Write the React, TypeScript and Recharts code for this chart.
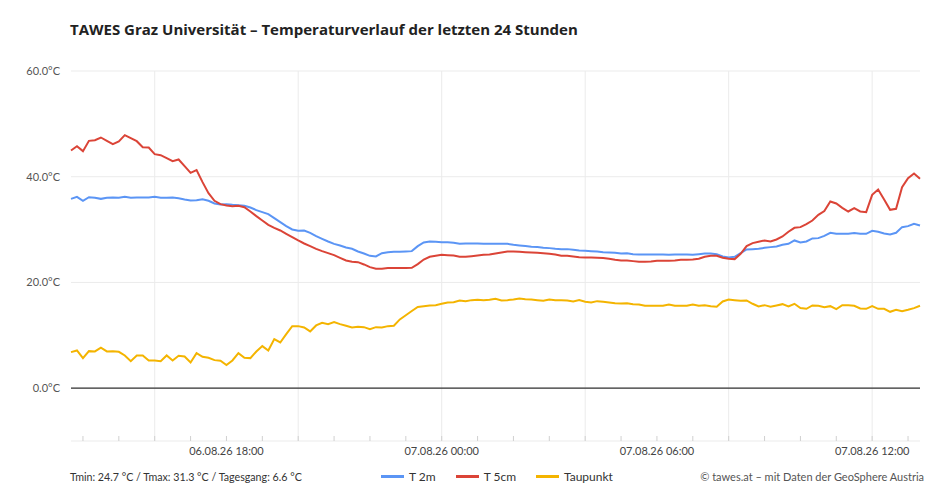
import React from "react";
import {
  LineChart,
  Line,
  XAxis,
  YAxis,
  CartesianGrid,
  ReferenceLine,
} from "recharts";

// time axis: hours relative to 07.08.26 00:00, first value at 06.08.26 13:40, 10-minute steps
const START_HOUR = -10 - 20 / 60;
const STEP_HOURS = 10 / 60;

const t2m = [
  35.81, 36.19, 35.44, 36.13, 36.0, 35.81, 36.0, 36.07, 36.0, 36.19, 36.0, 36.07, 36.07, 36.07,
  36.19, 36.0, 36.0, 36.07, 35.94, 35.69, 35.5, 35.56, 35.75, 35.44, 34.94, 34.75, 34.81, 34.68,
  34.62, 34.49, 34.18, 33.68, 33.3, 32.92, 32.16, 31.4, 30.65, 30.02, 29.77, 29.83, 29.39, 28.76,
  28.25, 27.75, 27.3, 26.99, 26.61, 26.36, 25.86, 25.47, 25.03, 24.91, 25.54, 25.73, 25.79,
  25.79,
  25.86, 25.92, 26.87, 27.56, 27.75, 27.69, 27.62, 27.62, 27.5, 27.3, 27.37, 27.37, 27.37, 27.3,
  27.3, 27.3, 27.3, 27.3, 27.12, 26.99, 26.87, 26.74, 26.68, 26.55, 26.49, 26.36, 26.3,
  26.3, 26.17, 26.05, 25.98, 25.92, 25.86, 25.73, 25.67, 25.6, 25.48, 25.54, 25.35, 25.29, 25.29,
  25.29, 25.29, 25.29, 25.23, 25.29, 25.29, 25.29, 25.23, 25.35, 25.48, 25.48, 25.35, 24.91, 24.72,
  24.85, 25.54, 26.24, 26.3, 26.36, 26.55, 26.68, 26.8, 27.12, 27.3, 27.94, 27.56, 27.75, 28.32,
  28.38, 28.82, 29.39, 29.2, 29.2, 29.2, 29.33, 29.2, 29.2, 29.77, 29.58, 29.26, 29.07, 29.39,
  30.46, 30.65, 31.09, 30.77,
];

const t5cm = [
  44.96, 45.78, 44.84, 46.79, 46.91, 47.42, 46.79, 46.16, 46.66, 47.86, 47.29, 46.72, 45.59, 45.53,
  44.27, 44.08, 43.51, 42.95, 43.26, 41.99, 40.73, 41.24, 38.97, 36.89, 35.44, 34.81, 34.56, 34.43,
  34.49, 34.24, 33.42, 32.54, 31.72, 30.9, 30.33, 29.83, 29.2, 28.57, 27.94, 27.37, 26.87, 26.36,
  25.92, 25.54, 25.16, 24.66, 24.15, 23.9, 23.84, 23.4, 22.9, 22.58, 22.58, 22.71, 22.71,
  22.71,
  22.71, 22.77, 23.46, 24.34, 24.85, 25.04, 25.23, 25.16, 25.1, 24.85, 24.85, 24.97, 25.1, 25.23,
  25.29, 25.48, 25.67, 25.86, 25.86, 25.79, 25.73, 25.67, 25.6, 25.54, 25.42, 25.29, 25.04,
  25.04, 24.91, 24.78, 24.72, 24.72, 24.66, 24.6, 24.47, 24.28, 24.15, 24.15, 24.03, 23.9, 23.9,
  23.96, 24.09, 24.09, 24.09, 24.15, 24.28, 24.28, 24.34, 24.47, 24.85, 25.04, 25.04, 24.66, 24.47,
  24.41, 25.42, 26.87, 27.44, 27.69, 27.94, 27.75, 28.13, 28.69, 29.58, 30.33, 30.46, 31.03, 31.72,
  32.79, 33.49, 35.31, 34.93, 34.11, 33.42, 34.05, 33.42, 33.29, 36.57, 37.58, 35.69, 33.74, 33.93,
  38.03, 39.72, 40.61, 39.6,
];

const taupunkt = [
  6.82, 7.13, 5.68, 7.0, 6.94, 7.64, 6.94, 7.0, 6.88, 6.19, 5.11, 6.19, 6.19, 5.24, 5.24, 5.11,
  6.19, 5.24, 6.12, 6.0, 4.86, 6.63, 5.93, 5.74, 5.3, 5.18, 4.36, 5.24,
  6.63, 5.74, 5.68, 6.94, 7.95, 7.13, 9.27, 8.64, 10.22, 11.73, 11.73, 11.48, 10.73, 11.86, 12.36,
  12.11, 12.49, 12.11, 11.8, 11.48, 11.6, 11.54, 11.17, 11.54, 11.48, 11.73, 11.8, 13.0,
  13.8, 14.6, 15.37, 15.5, 15.64, 15.7, 15.95, 16.2, 16.27, 16.59, 16.46, 16.65, 16.71, 16.65,
  16.71, 16.9, 16.59, 16.65, 16.77, 16.96, 16.84, 16.77, 16.65, 16.52, 16.77, 16.65,
  16.65, 16.58, 16.4, 16.65, 16.33, 16.21, 16.46, 16.33, 16.21, 16.08, 16.02, 16.08, 15.89, 15.83,
  15.57, 15.57, 15.57, 15.57, 15.83, 15.57, 15.57, 15.57, 15.83, 15.57, 15.7, 15.51, 15.39, 16.4,
  16.78,
  16.65, 16.53, 16.59, 15.96, 15.45, 15.7, 15.39, 15.64, 15.89, 15.45, 15.96, 15.14, 15.01, 15.64,
  15.58, 15.33, 15.51, 14.95, 15.7, 15.7, 15.58, 15.07, 15.01, 15.51, 15.01, 15.01, 14.44, 14.82,
  14.57, 14.82, 15.14, 15.58,
];

const seriesKeys = ["t2m", "t5cm", "taupunkt"];
const seriesNames = ["T 2m", "T 5cm", "Taupunkt"];
const seriesColors = ["#5b95f5", "#db4437", "#f4b400"];

const yTicks = [0, 20, 40, 60];
const hourTicks = [-10, -9, -8, -7, -6, -5, -4, -3, -2, -1, 0, 1, 2, 3, 4, 5, 6, 7, 8, 9, 10, 11, 12, 13];
const gridHours = [-8, -4, 0, 4, 8, 12];
const labelHours = [-6, 0, 6, 12];
const tickLabels = ["06.08.26 18:00", "07.08.26 00:00", "07.08.26 06:00", "07.08.26 12:00"];

const summaryText = "Tmin: 24.7 °C / Tmax: 31.3 °C / Tagesgang: 6.6 °C";
const creditText = "© tawes.at – mit Daten der GeoSphere Austria";
const title = "TAWES Graz Universität – Temperaturverlauf der letzten 24 Stunden";

const FONT = "Lato, 'Open Sans', sans-serif";

const data = t2m.map((v, i) => ({
  t: START_HOUR + i * STEP_HOURS,
  t2m: v,
  t5cm: t5cm[i],
  taupunkt: taupunkt[i],
}));

const lastHour = START_HOUR + (t2m.length - 1) * STEP_HOURS;

export default function App() {
  return (
    <div
      style={{
        position: "absolute",
        left: 0,
        top: 0,
        width: 950,
        height: 500,
        background: "#fff",
        fontFamily: FONT,
      }}
    >
      <div
        style={{
          position: "absolute",
          left: 70,
          top: 19,
          fontSize: 15,
          fontFamily: "'Open Sans', sans-serif",
          fontWeight: 700,
          color: "#222",
          whiteSpace: "nowrap",
        }}
      >
        {title}
      </div>

      <LineChart
        width={950}
        height={500}
        data={data}
        margin={{ top: 71, right: 30, left: 0, bottom: 29 }}
      >
        <CartesianGrid vertical={false} stroke="#ebebeb" />
        {gridHours.map((h) => (
          <ReferenceLine key={h} x={h} stroke="#ebebeb" ifOverflow="hidden" />
        ))}
        <ReferenceLine y={0} stroke="#333" strokeWidth={1.2} />
        <XAxis
          type="number"
          dataKey="t"
          domain={[START_HOUR, lastHour]}
          ticks={hourTicks}
          interval={0}
          tickFormatter={(v: number) => {
            const k = labelHours.indexOf(v);
            return k >= 0 ? tickLabels[k] : "";
          }}
          axisLine={false}
          tickLine={{ stroke: "#d0d0d0" }}
          tickSize={-5}
          tickMargin={11}
          tick={{ fill: "#444", fontSize: 11, fontFamily: FONT }}
          height={30}
        />
        <YAxis
          domain={[-10, 60]}
          ticks={yTicks}
          interval={0}
          tickFormatter={(v: number) => `${v.toFixed(1)}°C`}
          axisLine={false}
          tickLine={false}
          tickSize={0}
          tickMargin={11}
          width={71}
          tick={{ fill: "#555", fontSize: 11, fontFamily: FONT }}
        />
        {seriesKeys.map((k, i) => (
          <Line
            key={k}
            type="linear"
            dataKey={k}
            name={seriesNames[i]}
            stroke={seriesColors[i]}
            strokeWidth={2}
            dot={false}
            isAnimationActive={false}
          />
        ))}
      </LineChart>

      <div
        style={{
          position: "absolute",
          left: 70,
          top: 470,
          fontSize: 10.7,
          color: "#333",
          whiteSpace: "nowrap",
        }}
      >
        {summaryText}
      </div>

      <div
        style={{
          position: "absolute",
          left: 381,
          top: 469,
          display: "flex",
          alignItems: "center",
          fontSize: 12,
          color: "#333",
          whiteSpace: "nowrap",
        }}
      >
        {seriesNames.map((n, i) => (
          <div key={n} style={{ display: "flex", alignItems: "center", marginRight: 20 }}>
            <span
              style={{
                display: "inline-block",
                width: 23,
                height: 3,
                background: seriesColors[i],
                marginRight: 5,
              }}
            />
            <span>{n}</span>
          </div>
        ))}
      </div>

      <div
        style={{
          position: "absolute",
          right: 26,
          top: 470,
          fontSize: 11,
          color: "#555",
          whiteSpace: "nowrap",
        }}
      >
        {creditText}
      </div>
    </div>
  );
}
